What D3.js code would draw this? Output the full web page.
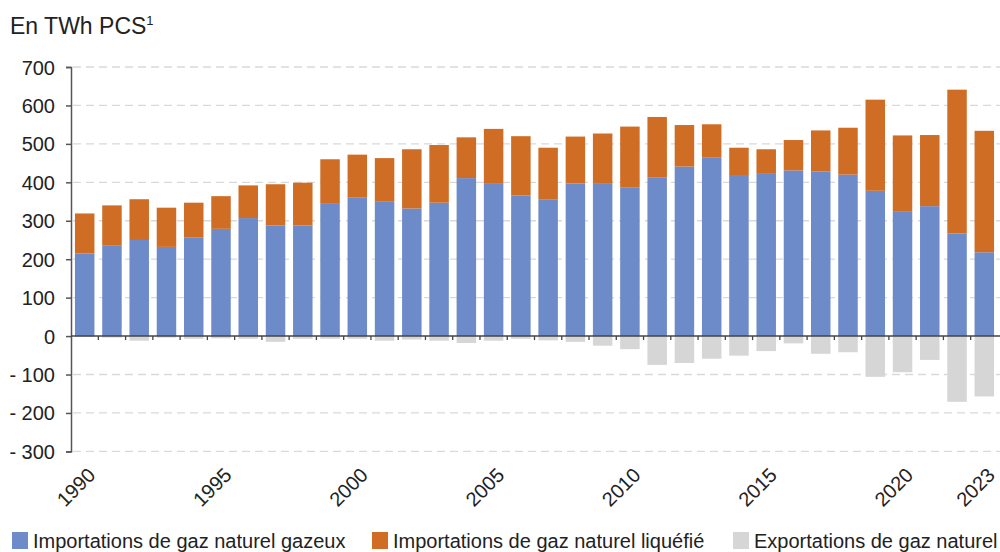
<!DOCTYPE html>
<meta charset="utf-8">
<style>
body { margin: 0; background: #fff; }
svg text { font-family: "Liberation Sans", Arial, sans-serif; fill: #222; }
.grid line { stroke: #d9d9d9; stroke-width: 1.3; stroke-dasharray: 8 5; }
</style>
<body>
<script src="https://d3js.org/d3.v7.min.js"></script>
<script>
// data (TWh PCS)
var years = d3.range(1990, 2024);
var gazeux = [215, 235, 250, 232, 257, 279, 307, 288, 288, 344, 360, 351, 332, 347, 411, 396, 366, 356, 397, 398,
              386, 412, 441, 464, 419, 422, 431, 428, 420, 378, 325, 338, 267, 218];
var totalImport = [319, 340, 356, 334, 347, 364, 392, 395, 399, 460, 472, 463, 486, 497, 517, 539, 520, 490, 519, 527,
                   545, 570, 549, 551, 490, 486, 510, 535, 542, 615, 522, 523, 641, 534];
var exportations = [-2, -4, -12, -4, -7, -6, -7, -15, -7, -7, -7, -12, -9, -12, -18, -12, -7, -11, -15, -25,
                    -34, -75, -70, -59, -51, -39, -19, -46, -42, -106, -94, -62, -171, -157];
var yTicks = [700, 600, 500, 400, 300, 200, 100, 0, -100, -200, -300];
var xLabels = [1990, 1995, 2000, 2005, 2010, 2015, 2020, 2023];
var legendItems = ["Importations de gaz naturel gazeux", "Importations de gaz naturel liquéfié", "Exportations de gaz naturel"];
var colors = ["#6e8bc9", "#cf6d25", "#d5d6d5"];

var width = 1000, height = 552;
var mLeft = 71, mRight = 998, mTop = 67, mBottom = 451.4;

var svg = d3.select("body").append("svg")
    .attr("width", width)
    .attr("height", height);

var x = d3.scaleBand().domain(years).range([mLeft, mRight]).paddingInner(0.285).paddingOuter(0.145);
var y = d3.scaleLinear().domain([-300, 700]).range([mBottom, mTop]);

// title
var title = svg.append("text").attr("x", 10).attr("y", 34).style("font-size", "23px");
title.append("tspan").text("En TWh PCS");
title.append("tspan").text("1").style("font-size", "13px").attr("dy", -9);

// dashed grid
svg.append("g").attr("class", "grid")
  .selectAll("line")
  .data(yTicks.filter(function(d) { return d != 0; }))
  .enter().append("line")
    .attr("x1", mLeft + 2).attr("x2", width)
    .attr("y1", function(d) { return y(d); })
    .attr("y2", function(d) { return y(d); });

// bars
var rows = years.map(function(yr, i) {
  return {year: yr, gaz: gazeux[i], gnl: totalImport[i] - gazeux[i], exp: exportations[i]};
});

svg.append("g").selectAll("rect").data(rows).enter().append("rect")
    .attr("x", function(d) { return x(d.year); })
    .attr("width", x.bandwidth())
    .attr("y", function(d) { return y(0); })
    .attr("height", function(d) { return y(d.exp) - y(0); })
    .attr("fill", colors[2]);

svg.append("g").selectAll("rect").data(rows).enter().append("rect")
    .attr("x", function(d) { return x(d.year); })
    .attr("width", x.bandwidth())
    .attr("y", function(d) { return y(d.gaz); })
    .attr("height", function(d) { return y(0) - y(d.gaz); })
    .attr("fill", colors[0]);

svg.append("g").selectAll("rect").data(rows).enter().append("rect")
    .attr("x", function(d) { return x(d.year); })
    .attr("width", x.bandwidth())
    .attr("y", function(d) { return y(d.gaz + d.gnl); })
    .attr("height", function(d) { return y(d.gaz) - y(d.gaz + d.gnl); })
    .attr("fill", colors[1]);

// y axis
var yAxis = svg.append("g")
    .attr("transform", "translate(" + mLeft + ",0)")
    .call(d3.axisLeft(y).tickValues(yTicks).tickSize(5).tickPadding(11)
      .tickFormat(function(d) { return d < 0 ? "- " + (-d) : d; }));
yAxis.select(".domain").attr("stroke", "#555").attr("stroke-width", 1.5);
yAxis.selectAll(".tick line").attr("stroke", "#555").attr("stroke-width", 1.5);
yAxis.selectAll("text").style("font-size", "20px").attr("fill", "#222").attr("dy", "0.35em");

// zero line and x ticks between bars
var gap = x.step() - x.bandwidth();
svg.append("line")
    .attr("x1", mLeft).attr("x2", width)
    .attr("y1", y(0)).attr("y2", y(0))
    .attr("stroke", "#444").attr("stroke-width", 1.5);
svg.append("g").selectAll("line").data(years.slice(1)).enter().append("line")
    .attr("x1", function(d) { return x(d) - gap / 2; })
    .attr("x2", function(d) { return x(d) - gap / 2; })
    .attr("y1", y(0)).attr("y2", y(0) + 4)
    .attr("stroke", "#444").attr("stroke-width", 1.3);

// x labels
svg.append("g").selectAll("text").data(xLabels).enter().append("text")
    .attr("transform", function(d) {
      return "translate(" + (x(d) + x.bandwidth() / 2 + 2) + "," + (y(-300) + 15) + ") rotate(-45)";
    })
    .attr("text-anchor", "end")
    .attr("dy", "0.7em")
    .style("font-size", "20px")
    .text(function(d) { return d; });

// legend
var legendX = [12, 372, 733];
var lg = svg.append("g").selectAll("g").data(legendItems).enter().append("g")
    .attr("transform", function(d, i) { return "translate(" + legendX[i] + ",532)"; });
lg.append("rect").attr("width", 16).attr("height", 17)
    .attr("fill", function(d, i) { return colors[i]; });
lg.append("text").attr("x", 21).attr("y", 16).style("font-size", "20px")
    .text(function(d) { return d; });
</script>
</body>
